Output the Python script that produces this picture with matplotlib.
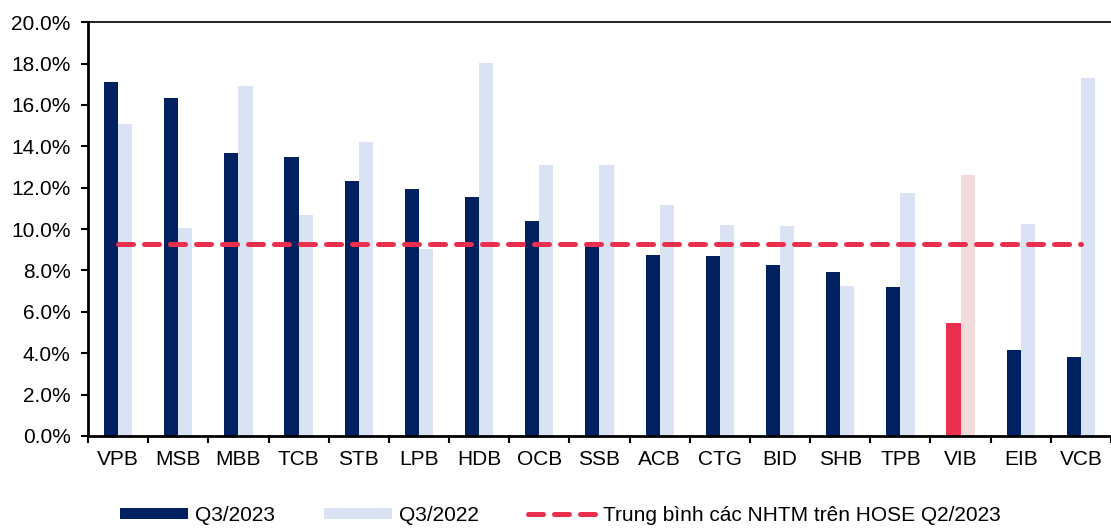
import matplotlib
matplotlib.use("Agg")
import matplotlib.pyplot as plt
import numpy as np

banks = ["VPB", "MSB", "MBB", "TCB", "STB", "LPB", "HDB", "OCB", "SSB",
         "ACB", "CTG", "BID", "SHB", "TPB", "VIB", "EIB", "VCB"]
q3_2023 = [17.1, 16.35, 13.7, 13.5, 12.3, 11.95, 11.55, 10.4, 9.35,
           8.75, 8.7, 8.25, 7.9, 7.2, 5.45, 4.15, 3.8]
q3_2022 = [15.1, 10.05, 16.9, 10.7, 14.2, 9.05, 18.05, 13.1, 13.1,
           11.15, 10.2, 10.15, 7.25, 11.75, 12.6, 10.25, 17.3]
avg_hose = 9.3

highlight = "VIB"
navy = "#002060"
light = "#DAE3F3"
red = "#EB2F4E"
pink = "#F2DCDB"

plt.rcParams["font.family"] = ["Liberation Sans", "DejaVu Sans"]

fig = plt.figure(figsize=(11.11, 5.29), dpi=100)
ax = fig.add_axes([0.0792, 0.176, 0.9208, 0.782])

x = np.arange(len(banks))
w = 0.235
c23 = [red if b == highlight else navy for b in banks]
c22 = [pink if b == highlight else light for b in banks]
ax.bar(x - w / 2, q3_2023, width=w, color=c23, label="Q3/2023")
ax.bar(x + w / 2, q3_2022, width=w, color=c22, label="Q3/2022")
ax.plot(x, [avg_hose] * len(banks), color=red, lw=3.6, dashes=(3, 2.2),
        dash_capstyle="round", label="Trung bình các NHTM trên HOSE Q2/2023")

ax.set_xlim(-0.5, len(banks) - 0.5)
ax.set_ylim(0, 20)
ax.set_yticks(np.arange(0, 21, 2))
ax.set_yticklabels([f"{v:.1f}%" for v in np.arange(0, 21, 2)])
ax.set_xticks(x)
ax.set_xticklabels(banks)
ax.set_xticks(np.arange(-0.5, len(banks), 1), minor=True)
ax.tick_params(axis="x", which="major", length=0, pad=10, labelsize=15)
ax.tick_params(axis="x", which="minor", length=5, width=1.5, direction="out")
ax.tick_params(axis="y", length=5, width=1.5, labelsize=15, pad=7.5)

ax.spines["right"].set_visible(False)
for s in ["left", "bottom"]:
    ax.spines[s].set_linewidth(2)
ax.spines["top"].set_linewidth(1.2)

# legend handles in order: bars then the average line
h, l = ax.get_legend_handles_labels()
order = [1, 2, 0]
fig.legend([h[i] for i in order], [l[i] for i in order], loc="lower left",
           bbox_to_anchor=(0.091, -0.028), ncol=3, frameon=False, fontsize=15,
           handlelength=3.25, handleheight=0.47, handletextpad=0.35,
           columnspacing=2.35)

fig.savefig("out.png", dpi=100)
